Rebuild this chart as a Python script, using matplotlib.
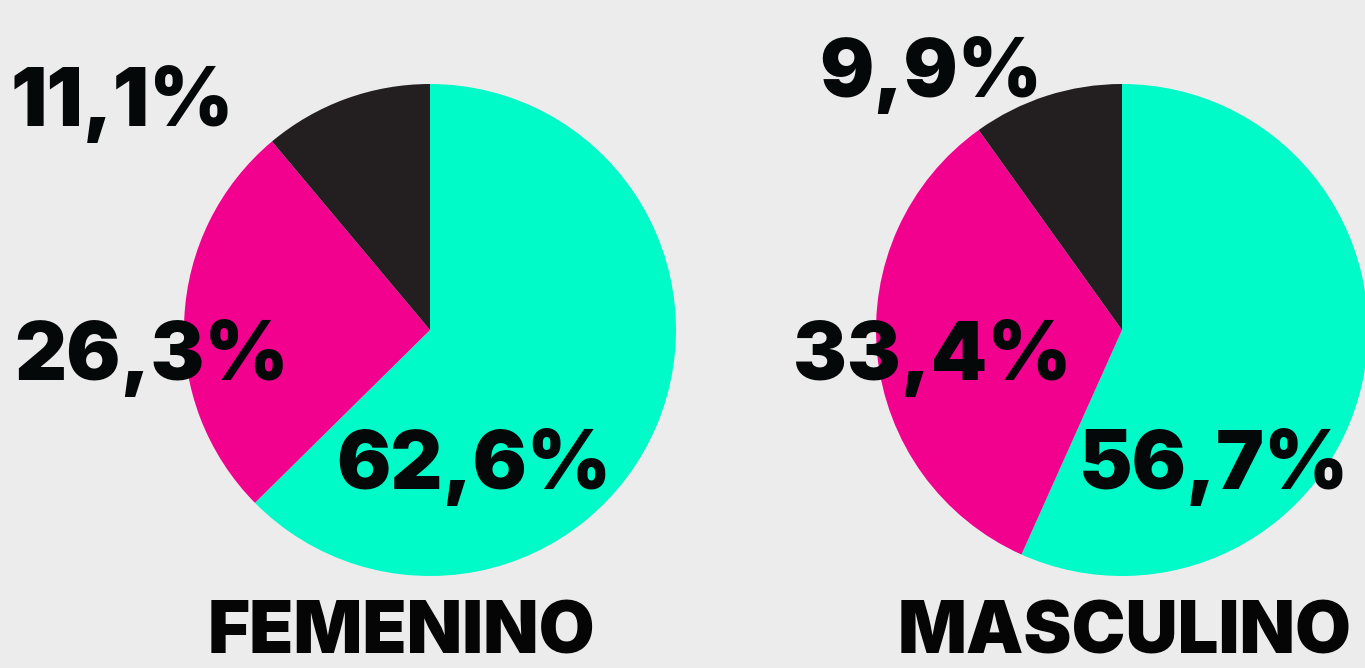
import matplotlib
matplotlib.use('Agg')
import matplotlib.pyplot as plt

# data
groups = ['FEMENINO', 'MASCULINO']
segments = ['alto', 'medio', 'bajo']
fem_values = [62.6, 26.3, 11.1]
masc_values = [56.7, 33.4, 9.9]
fem_labels = ['62,6%', '26,3%', '11,1%']
masc_labels = ['56,7%', '33,4%', '9,9%']

colors = ['#00FAC8', '#F2008E', '#231F20']
bg = '#ECECEC'
font = ['Inter', 'DejaVu Sans']

fig = plt.figure(figsize=(13.65, 6.68), dpi=100)
fig.patch.set_facecolor(bg)
ax = fig.add_axes([0, 0, 1, 1])
ax.set_facecolor(bg)

# pixel-like coordinates, y pointing down
centers = [(430, -330), (1122, -330)]
radius = 246
label_pos = [
    [(474, -467), (152, -358), (122, -104)],
    [(1214, -467), (932, -358), (931, -75)],
]
title_pos = [(401, -634), (1125, -634)]

for vals, labs, c, lp, tp, name in zip([fem_values, masc_values],
                                        [fem_labels, masc_labels],
                                        centers, label_pos, title_pos, groups):
    ax.pie(vals, colors=colors, startangle=90, counterclock=False,
           center=c, radius=radius, frame=True,
           wedgeprops=dict(linewidth=0))
    for (x, y), t in zip(lp, labs):
        ax.text(x, y, t, ha='center', va='center', fontsize=58,
                fontweight='black', family=font, color='#050808')
    ax.text(tp[0], tp[1], name, ha='center', va='center', fontsize=52,
            fontweight='black', family=font, color='#050505')

ax.set_xlim(0, 1365)
ax.set_ylim(-668, 0)
ax.set_aspect('equal')
ax.axis('off')

fig.savefig('out.png', dpi=100, facecolor=bg)
